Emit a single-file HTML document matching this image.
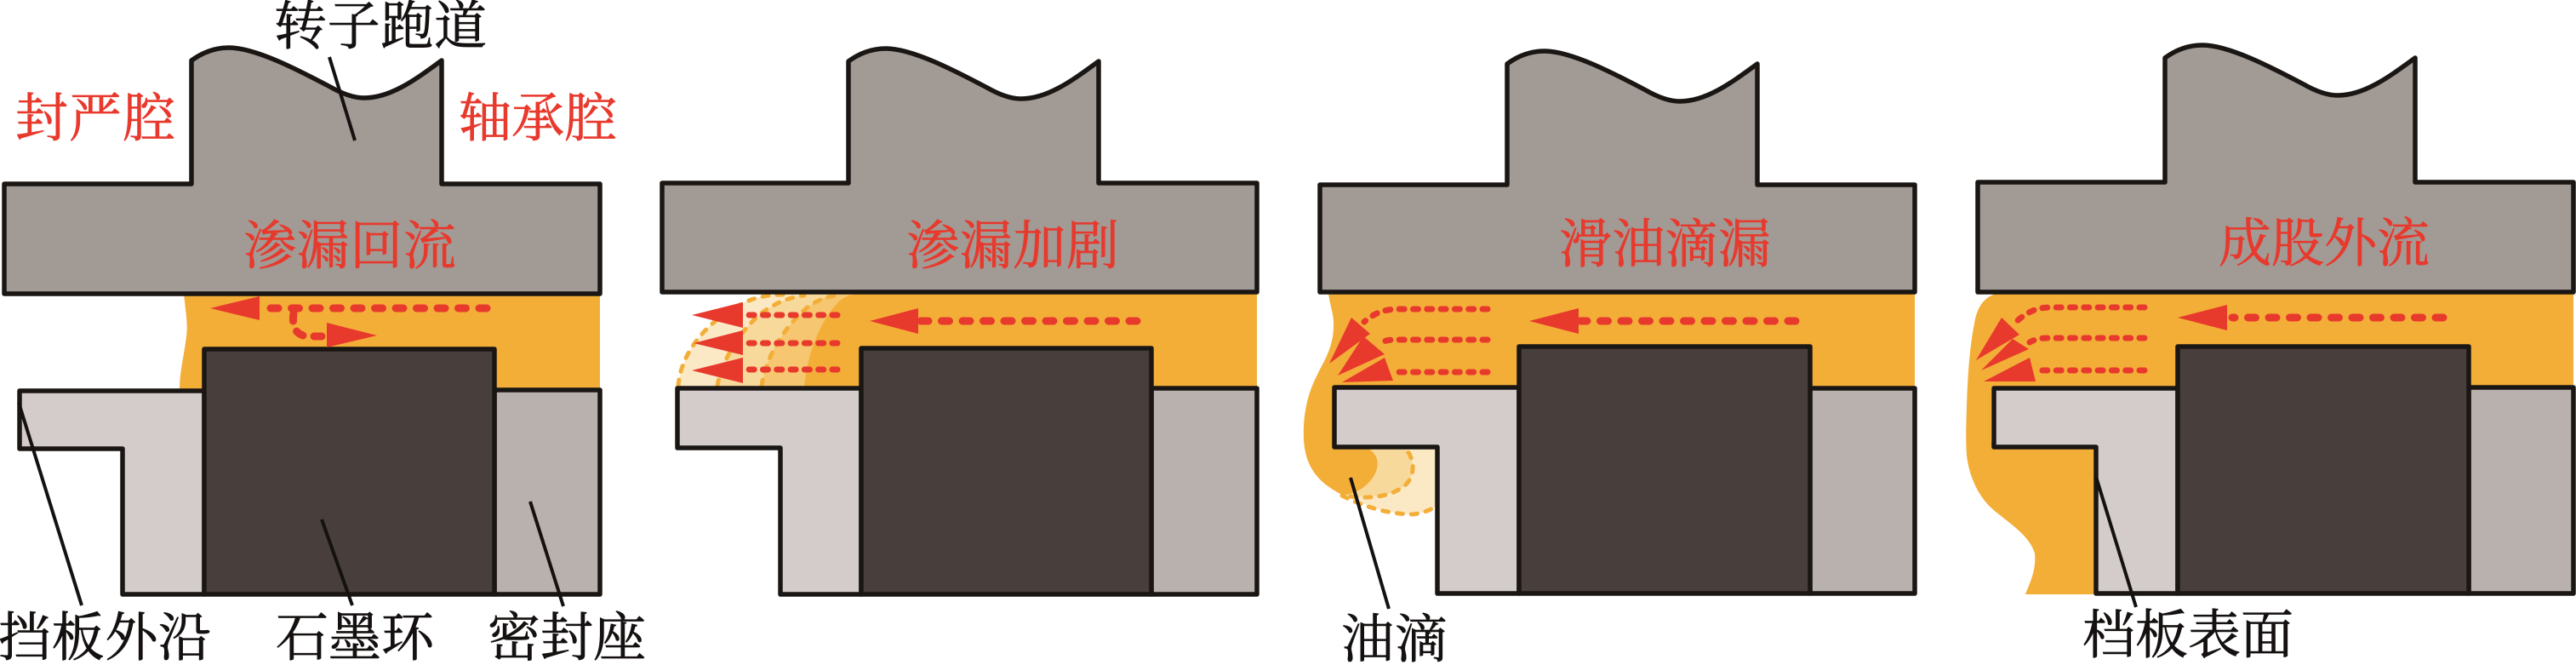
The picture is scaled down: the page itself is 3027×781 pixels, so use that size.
<!DOCTYPE html>
<html lang="zh">
<head>
<meta charset="utf-8">
<style>
html,body{margin:0;padding:0;background:#fff;width:3027px;height:781px;overflow:hidden}
svg{display:block}
text{font-family:"Liberation Serif","Noto Serif CJK SC",serif;font-size:62px;font-weight:400;stroke-width:.7}
.k{fill:#141110;stroke:#141110}
.r{fill:#E8392D;stroke:#E8392D}
.rotor{fill:#A29A95;stroke:#1a1614;stroke-width:5.5;stroke-linejoin:round}
.baffle{fill:#D3CCCB;stroke:#1a1614;stroke-width:5.5;stroke-linejoin:round}
.seat{fill:#B9B1AD;stroke:#1a1614;stroke-width:5.5;stroke-linejoin:round}
.graph{fill:#483E3C;stroke:#1a1614;stroke-width:5.5;stroke-linejoin:round}
.oil{fill:#F3AE38}
.d8{fill:none;stroke:#E8392D;stroke-width:9;stroke-linecap:round;stroke-dasharray:9 15.5}
.d6{fill:none;stroke:#E8392D;stroke-width:7;stroke-linecap:round;stroke-dasharray:6 10.3}
.tri{fill:#E8392D}
.lead{fill:none;stroke:#141110;stroke-width:4}
.odash{stroke:#F3AE38;stroke-width:5;stroke-dasharray:7 10;stroke-linecap:round}
</style>
</head>
<body>
<svg xmlns="http://www.w3.org/2000/svg" width="3027" height="781" viewBox="0 0 3027 781">
<rect width="3027" height="781" fill="#fff"/>

<!-- Panel 1 -->
<path class="oil" d="M216,345 C218,365 221,380 219,395 C216,420 211,435 211,460 H250 V345 Z"/>
<rect class="oil" x="240" y="345" width="465" height="115"/>
<path class="rotor" d="M225,71 c15,-11 30,-15 44,-15 c31,0 81,26 119,46 c14,8 27,13 40,13 c32,0 62,-23 91,-44 V216 H705 V345 H5 V216 H225 Z"/>
<path class="baffle" d="M23,459 H240 V698 H144 V527 H23 Z"/>
<rect class="seat" x="581" y="458" width="124" height="240"/>
<rect class="graph" x="240" y="410" width="341" height="288"/>
<path class="d8" d="M572,362 H305"/>
<path class="d8" d="M345,368 C343,382 346,395 364,395 H384" style="stroke-dasharray:9 13"/>
<polygon class="tri" points="247,362 305,348 305,376"/>
<polygon class="tri" points="443,394 384,379 384,408"/>

<!-- Panel 2 -->
<path fill="#FBE9C6" d="M797,455 C800,415 830,375 880,353 C900,346 915,345 930,345 H1000 V455 Z"/>
<path fill="#F8D99C" d="M843,455 C850,415 880,375 905,361 C920,352 935,347 950,345 H1000 V455 Z"/>
<path fill="#F6C770" d="M895,455 C900,420 920,385 950,360 C965,350 975,346 990,345 H1000 V455 Z"/>
<path class="oil" d="M945,455 C948,415 965,375 985,355 C990,350 998,346 1005,345 H1477 V455 Z"/>
<path fill="none" class="odash" d="M797,453 C800,415 830,375 880,353 C895,347 910,346 925,346"/>
<path fill="none" class="odash" d="M843,453 C850,415 880,375 905,361 C918,353 930,349 945,347"/>
<path fill="none" class="odash" d="M895,453 C900,420 920,385 950,360 C962,352 972,348 985,347"/>
<path class="rotor" d="M997,72 c15,-11 30,-15 44,-15 c31,0 81,26 119,46 c14,8 27,13 40,13 c32,0 62,-23 91,-44 V215 H1477 V343 H778 V215 H997 Z"/>
<path class="baffle" d="M796,456 H1012 V698 H917 V526 H796 Z"/>
<rect class="seat" x="1353" y="456" width="124" height="242"/>
<rect class="graph" x="1012" y="409" width="341" height="289"/>
<path class="d8" d="M1336,377 H1081"/>
<polygon class="tri" points="1022,377 1079,362 1079,392"/>
<path class="d6" d="M984,370 H876"/>
<path class="d6" d="M984,403 H876"/>
<path class="d6" d="M984,434 H876"/>
<polygon class="tri" points="813,370 873,355 873,385"/>
<polygon class="tri" points="815,403 873,388 873,417"/>
<polygon class="tri" points="813,435 873,420 873,450"/>

<!-- Panel 3 -->
<path fill="#FBE9C6" d="M1577,580 C1600,592 1630,604 1660,604 C1672,603 1682,598 1689,594 V525 H1600 Z"/>
<path fill="#F8D99C" d="M1577,580 C1600,586 1630,584 1647,573 C1660,565 1664,548 1656,533 C1654,530 1652,528 1650,526 H1600 Z"/>
<path fill="none" class="odash" d="M1577,582 C1600,594 1630,604 1660,604 C1672,603 1682,598 1687,595"/>
<path fill="none" class="odash" d="M1587,583 C1610,586 1632,583 1647,573 C1660,565 1664,548 1656,533 C1654,530 1652,528 1650,527"/>
<path class="oil" d="M1561,345 C1563,360 1568,370 1567,385 C1566,410 1555,425 1548,440 C1535,465 1531,490 1532,517 C1534,545 1545,565 1577,581 C1590,582 1608,572 1616,556 C1622,542 1618,532 1605,525 L1570,525 V455 H1789 V345 Z"/>
<rect class="oil" x="1785" y="345" width="465" height="112"/>
<path class="rotor" d="M1771,75 c15,-11 30,-15 44,-15 c31,0 81,26 119,46 c14,8 27,13 40,13 c32,0 62,-23 91,-44 V217 H2250 V343 H1551 V217 H1771 Z"/>
<path class="baffle" d="M1568,455 H1785 V697 H1689 V525 H1568 Z"/>
<rect class="seat" x="2127" y="456" width="123" height="241"/>
<rect class="graph" x="1785" y="407" width="342" height="290"/>
<path class="d8" d="M2110,377 H1857"/>
<polygon class="tri" points="1797,377 1855,362 1855,392"/>
<path class="d6" d="M1748,363 H1645 C1625,363 1615,368 1603,378"/>
<path class="d6" d="M1748,399 H1640 C1632,399 1626,400 1620,404"/>
<path class="d6" d="M1748,437 H1635"/>
<polygon class="tri" points="1562,427 1588,373 1610,392"/>
<polygon class="tri" points="1572,441 1602,395 1627,416"/>
<polygon class="tri" points="1577,449 1627,420 1637,447"/>

<!-- Panel 4 -->
<path class="oil" d="M2345,345 C2330,350 2323,362 2320,380 C2315,405 2312,440 2311,480 C2310,505 2310,520 2311,535 C2314,560 2325,585 2345,601 C2365,617 2385,630 2391,650 C2393,670 2385,685 2380,698 H2465 V520 H2340 V455 H2563 V345 Z"/>
<rect class="oil" x="2559" y="345" width="465" height="112"/>
<path class="rotor" d="M2544,68 c15,-11 30,-15 44,-15 c31,0 81,26 119,46 c14,8 27,13 40,13 c32,0 62,-23 91,-44 V214 H3024 V343 H2324 V214 H2544 Z"/>
<path class="baffle" d="M2343,456 H2559 V697 H2463 V525 H2343 Z"/>
<rect class="seat" x="2901" y="455" width="123" height="242"/>
<rect class="graph" x="2559" y="407" width="342" height="290"/>
<path class="d8" d="M2871,373 H2623"/>
<polygon class="tri" points="2559,373 2617,358 2617,388"/>
<path class="d6" d="M2520,361 H2410 C2390,361 2378,369 2365,382"/>
<path class="d6" d="M2520,397 H2405 C2397,397 2390,399 2385,402"/>
<path class="d6" d="M2520,435 H2392"/>
<polygon class="tri" points="2322,423 2352,373 2373,393"/>
<polygon class="tri" points="2328,435 2365,398 2384,410"/>
<polygon class="tri" points="2331,448 2385,420 2392,448"/>

<!-- Leader lines -->
<path class="lead" d="M387,67 L417,165"/>
<path class="lead" d="M22,473 L96,711"/>
<path class="lead" d="M378,610 L414,711"/>
<path class="lead" d="M623,589 L662,712"/>
<path class="lead" d="M1587,561 L1632,715"/>
<path class="lead" d="M2463,560 L2510,713"/>

<!-- Labels -->
<text class="k" x="322" y="52" textLength="250" lengthAdjust="spacing">转子跑道</text>
<text class="r" x="18" y="160" textLength="188" lengthAdjust="spacing">封严腔</text>
<text class="r" x="539" y="160" textLength="186" lengthAdjust="spacing">轴承腔</text>
<text class="r" x="286" y="310" textLength="250" lengthAdjust="spacing">渗漏回流</text>
<text class="k" x="-2" y="770" textLength="250" lengthAdjust="spacing">挡板外沿</text>
<text class="k" x="324" y="770" textLength="186" lengthAdjust="spacing">石墨环</text>
<text class="k" x="573" y="770" textLength="186" lengthAdjust="spacing">密封座</text>
<text class="r" x="1065" y="310" textLength="250" lengthAdjust="spacing">渗漏加剧</text>
<text class="r" x="1832" y="308" textLength="249" lengthAdjust="spacing">滑油滴漏</text>
<text class="k" x="1576" y="772" textLength="125" lengthAdjust="spacing">油滴</text>
<text class="r" x="2607" y="307" textLength="248" lengthAdjust="spacing">成股外流</text>
<text class="k" x="2447" y="767" textLength="248" lengthAdjust="spacing">档板表面</text>
</svg>
</body>
</html>
